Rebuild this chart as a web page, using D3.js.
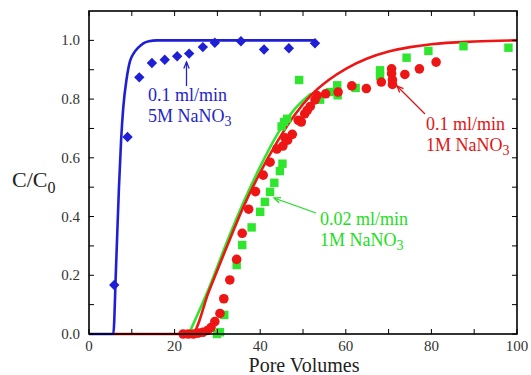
<!DOCTYPE html>
<html>
<head>
<meta charset="utf-8">
<script src="https://cdn.jsdelivr.net/npm/d3@7"></script>
<style>
  html, body { margin: 0; padding: 0; background: #fff; }
  svg { display: block; }
</style>
</head>
<body>
<svg id="chart" width="531" height="375" font-family="'Liberation Serif', 'Times New Roman', 'DejaVu Serif', serif"></svg>
<script>
// ---- data ----
const xTickValues = [0, 20, 40, 60, 80, 100];
const yTickValues = [0.0, 0.2, 0.4, 0.6, 0.8, 1.0];
const xMinorTicks = [10, 30, 50, 70, 90];
const yMinorTicks = [0.1, 0.3, 0.5, 0.7, 0.9];

// 0.1 ml/min, 5M NaNO3 (blue diamonds + model line)
const blueX = [5.9, 9.0, 11.75, 14.7, 17.7, 20.6, 23.4, 26.6, 29.4, 35.5, 40.9, 46.7, 52.8];
const blueY = [0.167, 0.671, 0.874, 0.923, 0.934, 0.946, 0.955, 0.977, 0.992, 0.997, 0.969, 0.973, 0.99];
const blueLineX = [0, 5.68, 6.3, 7.0, 7.5, 8.0, 8.8, 9.6, 10.4, 11.5, 12.7, 14.0, 15.8, 52.8];
const blueLineY = [0, 0, 0.22, 0.5, 0.66, 0.77, 0.87, 0.93, 0.955, 0.975, 0.99, 0.997, 1.0, 1.0];

// 0.1 ml/min, 1M NaNO3 (red circles + model line)
const redX = [22.0, 23.2, 24.4, 25.5, 26.6, 27.7, 28.5, 29.4, 30.6, 31.5, 32.9, 34.5, 35.8, 37.3, 38.9,
              40.7, 42.3, 43.9, 45.3, 45.8, 46.4, 47.5, 48.9, 49.6, 50.4, 51.0, 51.7, 52.8, 53.3, 55.3,
              58.2, 61.4, 64.8, 68.3, 70.7, 70.7, 70.9, 70.9, 73.8, 77.2, 81.1];
const redY = [0.0, 0.0, 0.0, 0.003, 0.006, 0.012, 0.022, 0.042, 0.07, 0.12, 0.184, 0.254, 0.343, 0.425, 0.485,
              0.541, 0.585, 0.63, 0.64, 0.668, 0.66, 0.68, 0.728, 0.722, 0.75, 0.762, 0.775, 0.797, 0.812, 0.818,
              0.824, 0.845, 0.836, 0.858, 0.903, 0.887, 0.865, 0.85, 0.884, 0.903, 0.926];
const redLineX = [5.68, 24, 28, 32, 36, 40, 44, 48, 52, 56, 60, 65, 70, 75, 80, 90, 100];
const redLineY = [0, 0, 0.145, 0.29, 0.43, 0.55, 0.655, 0.745, 0.815, 0.865, 0.903, 0.938, 0.962, 0.977, 0.987, 0.996, 1.0];

// 0.02 ml/min, 1M NaNO3 (green squares + model line)
const greenX = [29.9, 30.6, 31.6, 34.5, 35.8, 38.0, 40.0, 41.1, 42.3, 43.3, 44.6, 45.2, 45.0, 45.6, 46.3,
                49.1, 54.0, 56.3, 58.0, 58.1, 62.3, 68.0, 68.0, 74.2, 79.3, 87.5, 98.0];
const greenY = [0.0, 0.006, 0.065, 0.235, 0.303, 0.363, 0.416, 0.45, 0.484, 0.515, 0.555, 0.58, 0.707, 0.722, 0.733,
                0.865, 0.798, 0.824, 0.847, 0.813, 0.838, 0.898, 0.878, 0.941, 0.964, 0.98, 0.975];
const greenLineX = [23.3, 28, 32, 36, 40, 44, 48, 52];
const greenLineY = [0, 0.155, 0.305, 0.445, 0.57, 0.68, 0.765, 0.82];

const xLabel = "Pore Volumes";

// ---- drawing ----
const svg = d3.select("#chart");
const x = d3.scaleLinear().domain([0, 100]).range([89, 517]);
const y = d3.scaleLinear().domain([0, 1.1]).range([334, 11]);

const BLUE = "#1f1fd6", RED = "#ee1515", GREEN = "#2ee62e";
const BLUE_T = "#2424c8", RED_T = "#e01414", GREEN_T = "#22dd22";

const zip = (a, b) => a.map((v, i) => [v, b[i]]);
const line = d3.line().x(d => x(d[0])).y(d => y(d[1])).curve(d3.curveMonotoneX);

// model lines
svg.append("path").datum(zip(greenLineX, greenLineY)).attr("d", line)
  .attr("fill", "none").attr("stroke", GREEN).attr("stroke-width", 2.6);
svg.append("path").datum(zip(redLineX, redLineY)).attr("d", line)
  .attr("fill", "none").attr("stroke", RED).attr("stroke-width", 2.6);
svg.append("path").datum(zip(blueLineX, blueLineY)).attr("d", line)
  .attr("fill", "none").attr("stroke", BLUE).attr("stroke-width", 2.6);

// data markers
svg.append("g").selectAll("rect").data(zip(greenX, greenY)).join("rect")
  .attr("x", d => x(d[0]) - 4.2).attr("y", d => y(d[1]) - 4.2)
  .attr("width", 8.4).attr("height", 8.4).attr("fill", GREEN);
svg.append("g").selectAll("circle").data(zip(redX, redY)).join("circle")
  .attr("cx", d => x(d[0])).attr("cy", d => y(d[1])).attr("r", 4.8).attr("fill", RED);
svg.append("g").selectAll("path").data(zip(blueX, blueY)).join("path")
  .attr("d", d => {
    const cx = x(d[0]), cy = y(d[1]), r = 5.2;
    return `M${cx},${cy - r}L${cx + r},${cy}L${cx},${cy + r}L${cx - r},${cy}Z`;
  })
  .attr("fill", BLUE);

// frame
svg.append("rect").attr("x", x(0)).attr("y", y(1.1)).attr("width", x(100) - x(0)).attr("height", y(0) - y(1.1))
  .attr("fill", "none").attr("stroke", "#000").attr("stroke-width", 1.6);

// ticks (inward, on all four sides)
const tl = 5;
const tickG = svg.append("g").attr("stroke", "#000").attr("stroke-width", 1);
[...xTickValues, ...xMinorTicks].forEach(v => {
  tickG.append("line").attr("x1", x(v)).attr("x2", x(v)).attr("y1", y(0)).attr("y2", y(0) - tl);
  tickG.append("line").attr("x1", x(v)).attr("x2", x(v)).attr("y1", y(1.1)).attr("y2", y(1.1) + tl);
});
[...yTickValues, ...yMinorTicks].forEach(v => {
  tickG.append("line").attr("x1", x(0)).attr("x2", x(0) + tl).attr("y1", y(v)).attr("y2", y(v));
  tickG.append("line").attr("x1", x(100)).attr("x2", x(100) - tl).attr("y1", y(v)).attr("y2", y(v));
});

// tick labels
svg.append("g").selectAll("text").data(xTickValues).join("text")
  .attr("x", d => x(d)).attr("y", 351).attr("text-anchor", "middle")
  .attr("font-size", 15).attr("fill", "#333").text(d => d);
svg.append("g").selectAll("text").data(yTickValues).join("text")
  .attr("x", 80).attr("y", d => y(d) + 5).attr("text-anchor", "end")
  .attr("font-size", 15).attr("fill", "#333").text(d => d3.format(".1f")(d));

// axis titles
svg.append("text").attr("x", x(50) + 1).attr("y", 372).attr("text-anchor", "middle")
  .attr("font-size", 20).attr("fill", "#222").text(xLabel);
const yl = svg.append("text").attr("x", 12).attr("y", 187).attr("font-size", 22).attr("fill", "#222");
yl.append("tspan").text("C/C");
yl.append("tspan").attr("dy", 6).attr("font-size", 16).text("0");

// annotations
function label(tx, ty, l1, l2a, color) {
  const g = svg.append("g").attr("fill", color).attr("font-size", 18);
  g.append("text").attr("x", tx).attr("y", ty).text(l1);
  const t = g.append("text").attr("x", tx).attr("y", ty + 21);
  t.append("tspan").text(l2a);
  t.append("tspan").attr("dy", 4).attr("font-size", 14).text("3");
}
function arrow(x1, y1, x2, y2, color) {
  const ang = Math.atan2(y2 - y1, x2 - x1), L = 7, W = 0.4;
  svg.append("line").attr("x1", x1).attr("y1", y1).attr("x2", x2).attr("y2", y2)
    .attr("stroke", color).attr("stroke-width", 1.3);
  const p1 = [x2 - L * Math.cos(ang - W), y2 - L * Math.sin(ang - W)];
  const p2 = [x2 - L * Math.cos(ang + W), y2 - L * Math.sin(ang + W)];
  svg.append("path").attr("d", `M${p1}L${x2},${y2}L${p2}`)
    .attr("fill", "none").attr("stroke", color).attr("stroke-width", 1.3);
}

label(148, 101, "0.1 ml/min", "5M NaNO", BLUE_T);
arrow(186.5, 86, 186.5, 62, BLUE_T);

label(426, 130, "0.1 ml/min", "1M NaNO", RED_T);
arrow(425, 114, 397, 86, RED_T);

label(320, 225, "0.02 ml/min", "1M NaNO", GREEN_T);
arrow(316, 213, 274, 198, GREEN_T);
</script>
</body>
</html>
